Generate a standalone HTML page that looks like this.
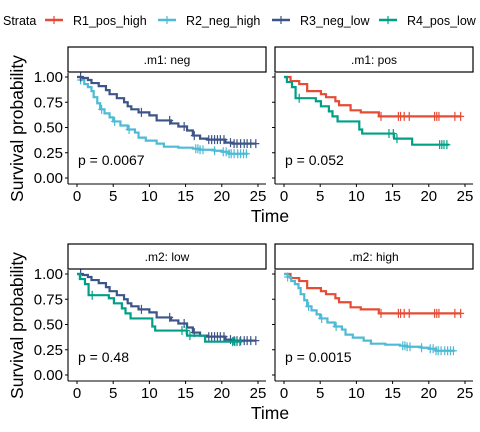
<!DOCTYPE html>
<html><head><meta charset="utf-8"><style>body{margin:0;background:#fff}svg{display:block;font-family:"Liberation Sans",sans-serif}</style></head>
<body>
<svg id="c" width="480" height="432"></svg>
<script>
// step curves: [time, survival] after each drop
const r1Steps=[[0,1],[0.9,0.96],[2.1,0.93],[3.2,0.86],[5.1,0.83],[5.8,0.8],[7.1,0.76],[7.6,0.72],[9.2,0.67],[10.6,0.65],[13.1,0.61]];
const r1End=24.4;
const r1Cens=[13.4,15.8,16.1,16.6,17.3,20.8,21.1,21.4,23.6,24.4];
const r2Steps=[[0,1],[0.5,0.97],[1,0.93],[1.5,0.9],[2,0.86],[2.3,0.8],[2.8,0.74],[3.2,0.68],[3.8,0.64],[4.5,0.6],[5,0.56],[6,0.52],[7,0.48],[8,0.45],[8.5,0.4],[9.5,0.37],[11,0.34],[12,0.31],[14,0.3],[16,0.29],[17,0.28],[19,0.27],[20,0.26],[21,0.24]];
const r2End=23.6;
const r2Cens=[0.5,3.4,5.2,7.2,16.4,16.7,17,17.4,19,20.2,20.6,21,21.3,21.7,22.2,22.6,23,23.4];
const r3Steps=[[0,1],[0.8,0.99],[1.5,0.97],[2,0.94],[3,0.91],[4,0.87],[4.5,0.83],[5.5,0.79],[6.5,0.75],[7,0.71],[7.5,0.68],[8.5,0.65],[10,0.62],[11,0.57],[13,0.54],[14,0.51],[15.2,0.47],[16,0.42],[17,0.39],[18,0.38],[20.5,0.35],[21.5,0.34]];
const r3End=24.7;
const r3Cens=[0.5,8.9,12.8,14.8,16.2,18.2,18.6,19,19.4,19.8,20.3,21.2,21.7,22.1,22.6,23.1,23.5,24,24.7];
const r4Steps=[[0,1],[0.4,0.95],[1.1,0.9],[1.6,0.79],[4.4,0.76],[5.1,0.71],[6.2,0.66],[6.7,0.61],[7.4,0.56],[10.4,0.48],[10.8,0.44],[15.2,0.39],[17.7,0.33]];
const r4End=22.8;
const r4Cens=[2.1,14.5,15.1,15.6,21.5,21.8,22.1,22.5];
const xTicks=[0,5,10,15,20,25];
const yTicks=[0,0.25,0.5,0.75,1];
const yLabels=["0.00","0.25","0.50","0.75","1.00"];
const colors={r1:"#E64B35",r2:"#4DBBD5",r3:"#3C5488",r4:"#00A087"};
const curves={r1:[r1Steps,r1End,r1Cens],r2:[r2Steps,r2End,r2Cens],r3:[r3Steps,r3End,r3Cens],r4:[r4Steps,r4End,r4Cens]};
const panels=[
 {title:".m1: neg",left:68,top:47,series:["r2","r3"],p:"p = 0.0067",yaxis:true},
 {title:".m1: pos",left:275,top:47,series:["r1","r4"],p:"p = 0.052",yaxis:false},
 {title:".m2: low",left:68,top:244,series:["r3","r4"],p:"p = 0.48",yaxis:true},
 {title:".m2: high",left:275,top:244,series:["r1","r2"],p:"p = 0.0015",yaxis:false}];
const NS="http://www.w3.org/2000/svg";
const svg=document.getElementById("c");
function mk(tag,attrs,parent,text){const e=document.createElementNS(NS,tag);for(const k in attrs)e.setAttribute(k,attrs[k]);if(text!==undefined)e.textContent=text;(parent||svg).appendChild(e);return e;}
// legend
let t=mk("text",{x:3,y:25,"font-size":12.5,fill:"#000"},svg,"Strata");

const leg=[["r1","R1_pos_high",45],["r2","R2_neg_high",158],["r3","R3_neg_low",272],["r4","R4_pos_low",379]];
leg.forEach(([k,l,x])=>{
 const g=mk("g",{});
 
 
 mk("line",{x1:x,x2:x+18,y1:20,y2:20,stroke:colors[k],"stroke-width":2.5},g);
 mk("line",{x1:x+9,x2:x+9,y1:16,y2:24,stroke:colors[k],"stroke-width":1.2},g);
 mk("text",{x:x+28,y:25,"font-size":12.5},g,l);
});
panels.forEach((P,i)=>{
 const g=mk("g",{});
 
 
 const x0=P.left+9, x25=P.left+190, yTop=P.top+30, y0=P.top+131, axY=P.top+137, right=P.left+198;
 const sx=v=>x0+(x25-x0)*v/25, sy=v=>y0-(y0-yTop)*v;
 const st=mk("rect",{x:P.left,y:P.top,width:198,height:25,fill:"#fff",stroke:"#000","stroke-width":1.2},g);
 
 mk("text",{x:P.left+99,y:P.top+17,"font-size":12,"text-anchor":"middle"},g,P.title);
 mk("line",{x1:P.left,x2:P.left,y1:P.top+26,y2:axY,stroke:"#000","stroke-width":1.1},g);
 mk("line",{x1:P.left,x2:right,y1:axY,y2:axY,stroke:"#000","stroke-width":1.1},g);
 yTicks.forEach((v,j)=>{
  mk("line",{x1:P.left-3,x2:P.left,y1:sy(v),y2:sy(v),stroke:"#000"},g);
  if(P.yaxis)mk("text",{x:P.left-5,y:sy(v)+5,"font-size":15,"text-anchor":"end"},g,yLabels[j]);
 });
 xTicks.forEach(v=>{
  mk("line",{x1:sx(v),x2:sx(v),y1:axY,y2:axY+3,stroke:"#000"},g);
  mk("text",{x:sx(v),y:axY+17,"font-size":15,"text-anchor":"middle"},g,String(v));
 });
 if(P.yaxis){const yt=mk("text",{x:0,y:0,"font-size":17.5,"text-anchor":"middle",transform:`translate(23,${(P.top+26+axY)/2}) rotate(-90)`},g,"Survival probability");
  }
 if(i%2==0){const xt=mk("text",{x:270,y:axY+38,"font-size":17.5,"text-anchor":"middle"},g,"Time");
  }
 P.series.forEach(k=>{
  const [steps,end,cens]=curves[k];
  let d=`M${sx(steps[0][0])},${sy(steps[0][1])}`;
  for(let j=1;j<steps.length;j++){d+=`H${sx(steps[j][0])}V${sy(steps[j][1])}`;}
  d+=`H${sx(end)}`;
  const pth=mk("path",{d,fill:"none",stroke:colors[k],"stroke-width":2.2},g);
  
  
  const survAt=tt=>{let s=1;steps.forEach(([a,b])=>{if(a<=tt)s=b;});return s;};
  cens.forEach(c=>{
   const m=mk("path",{d:`M${sx(c)-3.5},${sy(survAt(c))}h7M${sx(c)},${sy(survAt(c))-4.5}v9`,stroke:colors[k],"stroke-width":1.2},g);
   
   
  });
 });
 const pt=mk("text",{x:P.left+10,y:P.top+118,"font-size":14},g,P.p);
 
});
</script>
</body></html>
